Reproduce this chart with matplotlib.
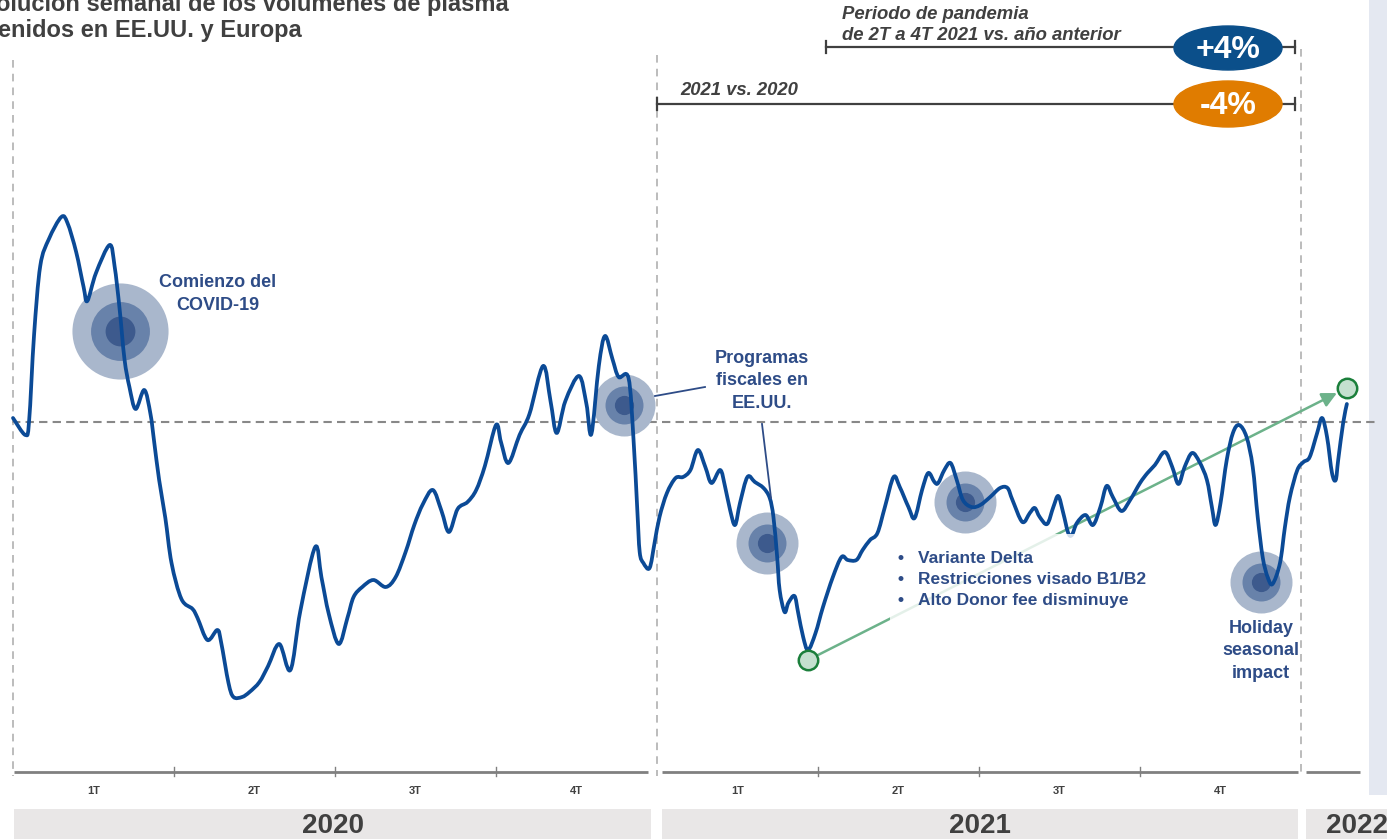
import numpy as np
import matplotlib.pyplot as plt
from matplotlib.patches import Rectangle, Ellipse, PathPatch
from matplotlib.path import Path

plt.rcParams['font.family'] = ['Liberation Sans', 'DejaVu Sans']

W, H = 1387, 839

# weekly plasma volume index (week 0 = start of 2020, 100 = reference level)
weeks = [0.0, 1.0, 1.3, 1.7, 2.2, 2.9, 3.9, 4.4, 5.1, 5.7, 6.0, 6.7, 7.8, 8.2, 8.6, 9.0, 9.4, 9.9,
         10.6, 11.1, 11.4, 11.8, 12.3, 12.8, 13.6, 14.5, 14.9, 15.7, 16.5, 16.8, 17.4, 17.8, 18.5,
         19.1, 19.9, 20.6, 21.5, 22.4, 23.2, 24.4, 24.9, 25.5, 26.3, 27.0, 27.5, 28.2, 29.1, 30.1,
         30.9, 31.7, 32.4, 33.1, 33.9, 34.6, 35.2, 35.9, 36.7, 37.4, 38.1, 39.0, 39.4, 40.0, 40.9,
         41.7, 42.8, 43.4, 43.9, 44.6, 45.7, 46.3, 46.7, 47.3, 47.8, 48.4, 48.9, 49.7, 50.1, 50.4,
         50.6, 50.9, 51.4,
         51.8, 52.2, 52.8, 53.5, 54.1, 54.7, 55.3, 55.9, 56.4, 57.1, 57.5, 57.9, 58.3, 58.7, 59.3,
         59.9, 60.6, 61.1, 61.4, 61.7, 61.9, 62.3, 62.6, 63.1, 63.4, 63.8, 64.2, 64.8, 65.4, 66.2,
         66.9, 67.4, 68.1, 68.6, 69.2, 69.8, 70.4, 71.1, 71.6, 72.3, 72.8, 73.4, 73.9, 74.4, 74.7,
         75.2, 75.7, 76.2, 76.7, 77.4, 78.1, 78.9, 79.7, 80.3, 80.7, 81.5, 82.1, 82.5, 82.9, 83.5,
         84.0, 84.4, 84.8, 85.2, 85.5, 85.9, 86.6, 87.2, 87.8, 88.3, 88.8, 89.5, 90.2, 91.0, 91.6,
         92.2, 93.0, 93.6, 94.1, 94.6, 95.2, 95.8, 96.4, 96.8, 97.1, 97.5, 98.0, 98.5, 99.0, 99.6,
         100.1, 100.5, 100.9, 101.3, 101.7, 102.3, 102.7, 103.1, 103.7,
         104.2, 104.7, 105.3, 105.7, 106.1, 106.5, 106.8, 107.0, 107.4, 107.7]
index = [100.4, 98.7, 100.1, 108.7, 115.6, 118.3, 120.5, 119.9, 117.0, 113.5, 112.1, 114.9, 117.7,
         115.6, 111.4, 106.3, 103.5, 101.3, 103.2, 100.8, 98.0, 94.2, 90.4, 85.9, 82.3, 81.3, 80.4,
         78.2, 79.2, 78.0, 73.9, 72.5, 72.5, 73.0, 74.0, 75.6, 77.8, 75.2, 81.1, 87.5, 84.5, 80.8,
         77.8, 80.4, 82.5, 83.5, 84.2, 83.5, 84.5, 87.0, 89.7, 91.8, 93.2, 91.1, 89.0, 91.3, 92.0,
         93.2, 95.6, 99.7, 98.0, 95.9, 98.7, 100.8, 105.6, 102.1, 98.9, 102.1, 104.6, 101.8, 98.8,
         105.6, 108.6, 106.3, 104.5, 104.4, 98.3, 91.4, 87.0, 85.9, 85.4,
         87.9, 90.5, 92.9, 94.4, 94.5, 95.2, 97.2, 95.5, 93.9, 95.2, 93.5, 91.2, 89.7, 91.9, 94.5,
         94.0, 93.4, 92.4, 90.5, 86.5, 83.2, 81.0, 81.9, 82.6, 80.9, 78.5, 77.2, 78.9, 81.5, 84.5,
         86.5, 86.2, 86.2, 87.2, 88.2, 88.9, 91.5, 94.5, 93.5, 91.5, 90.4, 93.2, 94.9, 94.0, 93.9,
         95.2, 95.9, 94.2, 92.2, 91.5, 91.7, 92.5, 93.4, 93.4, 92.2, 90.0, 90.9, 91.4, 90.5, 89.8,
         91.5, 92.6, 90.9, 88.9, 88.7, 89.9, 90.7, 89.7, 91.5, 93.6, 92.5, 91.1, 92.2, 93.9, 94.9,
         95.7, 97.0, 95.5, 93.8, 95.5, 96.9, 96.0, 94.2, 91.5, 89.7, 91.9, 96.2, 98.9, 99.7, 98.5,
         95.5, 90.5, 86.5, 84.5, 83.8, 85.9, 89.5, 92.5, 95.2,
         96.0, 96.5, 98.9, 100.4, 98.5, 94.9, 94.2, 96.2, 99.9, 101.8]

# event bubbles
bubble_weeks = [8.6, 49.3, 60.9, 76.9, 100.8]
bubble_index = [109.1, 101.7, 87.9, 92.0, 84.0]
bubble_big = [True, False, False, False, False]

trend_start = (64.2, 76.2)
trend_end = (107.7, 103.4)

quarters = ["1T", "2T", "3T", "4T"]
years = ["2020", "2021", "2022"]
year_start = [0, 52, 104]

pandemic_change = "+4%"
year_change = "-4%"

# pixel -> data helpers for the layout
PXW = 12.385
def wx(px):
    return (px - 13) / PXW
def vy(py):
    return 100 + (422 - py) / 10

BLUE = '#0b4a96'
ANN = '#2e4c87'
GREY = '#404040'


def smooth_path(x, y):
    """bezier path through the points (like a smoothed line in excel)"""
    p = np.column_stack([x, y])
    ext = np.vstack([p[0], p, p[-1]])
    verts = [p[0]]
    codes = [Path.MOVETO]
    for i in range(len(p) - 1):
        p0, p1, p2, p3 = ext[i], ext[i + 1], ext[i + 2], ext[i + 3]
        verts += [p1 + (p2 - p0) / 6, p2 - (p3 - p1) / 6, p2]
        codes += [Path.CURVE4] * 3
    return Path(verts, codes)


fig = plt.figure(figsize=(W / 100, H / 100), dpi=100)
ax = fig.add_axes([0, 0, 1, 1])
ax.set_xlim(wx(0), wx(W))
ax.set_ylim(vy(H), vy(0))
ax.axis('off')

# right side panel
ax.add_patch(Rectangle((wx(1369), vy(795)), wx(1400) - wx(1369), vy(-5) - vy(795),
                       color='#e4e8f1', zorder=0, lw=0))

# reference lines
ax.plot([wx(12), wx(1375)], [100, 100], ls=(0, (4, 2.5)), color='#888888', lw=1.5, zorder=2)
for x0, top in zip(year_start, [136.2, 136.7, 137.3]):
    ax.plot([x0, x0], [top, vy(776)], ls=(0, (5, 4)), color='#aaaaaa', lw=1.1, zorder=2)

# bubbles
for bw, bv, big in zip(bubble_weeks, bubble_index, bubble_big):
    k = 1.55 if big else 1.0
    ax.scatter(bw, bv, s=1993 * k ** 2, color='#a9b7cc', zorder=3, lw=0)
    ax.scatter(bw, bv, s=748 * k ** 2, color='#6882aa', zorder=3, lw=0)
    ax.scatter(bw, bv, s=133 * (k * 1.2) ** 2, color='#3d5a8d', zorder=3, lw=0)

ax.add_patch(PathPatch(smooth_path(weeks, index), fill=False, edgecolor=BLUE, lw=2.7,
                       capstyle='round', joinstyle='round', zorder=5))

# trend arrow
ax.annotate('', xy=trend_end, xytext=trend_start,
            arrowprops=dict(arrowstyle='-|>', color='#6cb28a', lw=1.8, mutation_scale=22,
                            shrinkA=7, shrinkB=8), zorder=4)
for p in (trend_start, trend_end):
    ax.plot(*p, 'o', ms=14, mfc='#c4e0cf', mec='#1b7f3b', mew=1.8, zorder=7)

# bottom quarter axis
v_axis = vy(772)
for a, b in [(0.1, 51.3), (52.4, 103.75), (104.4, 108.8)]:
    ax.plot([a, b], [v_axis, v_axis], color='#808080', lw=2, zorder=2, solid_capstyle='butt')
for y0 in year_start[:2]:
    for q in range(1, 4):
        ax.plot([y0 + 13 * q] * 2, [v_axis + 0.45, v_axis - 0.45], color='#808080', lw=1)
    for q, lab in enumerate(quarters):
        ax.text(y0 + 13 * q + 6.5, vy(791), lab, ha='center', va='center', fontsize=8,
                fontweight='bold', color=GREY)

# year bands
for (a, b), lab in zip([(0.1, 51.5), (52.4, 103.75), (104.4, 115)], years):
    ax.add_patch(Rectangle((a, vy(H + 5)), b - a, vy(809) - vy(H + 5), color='#e9e7e7', lw=0, zorder=1))
cx = [25.8, 78.1, wx(1357)]
for c, lab in zip(cx, years):
    ax.text(c, vy(826), lab, ha='center', va='center', fontsize=20, fontweight='bold', color=GREY)

# annotations
txt = dict(fontsize=13, fontweight='bold', color=ANN, ha='center', va='center', linespacing=1.4, zorder=8)
ax.text(wx(218), vy(294), "Comienzo del\nCOVID-19", **txt)
ax.text(wx(762), vy(381), "Programas\nfiscales en\nEE.UU.", **txt)
ax.text(wx(1261), vy(651), "Holiday\nseasonal\nimpact", **txt)
ax.plot([wx(705), wx(655)], [vy(387), vy(396)], color=ANN, lw=1.3, zorder=6)
ax.plot([wx(762), wx(771)], [vy(424), vy(498)], color=ANN, lw=1.3, zorder=6)

ax.add_patch(Rectangle((wx(890), vy(630)), wx(1150) - wx(890), vy(534) - vy(630),
                       facecolor='white', alpha=0.82, lw=0, zorder=6))
blt = dict(fontsize=12.5, fontweight='bold', color=ANN, ha='left', va='center', linespacing=1.5, zorder=8)
ax.text(wx(898), vy(580), "•\n•\n•", **blt)
ax.text(wx(918), vy(580), "Variante Delta\nRestricciones visado B1/B2\nAlto Donor fee disminuye", **blt)

# top brackets
ital = dict(fontsize=13.3, fontweight='bold', style='italic', color=GREY, ha='left', va='center')
ax.text(wx(842), vy(25), "Periodo de pandemia\nde 2T a 4T 2021 vs. año anterior", linespacing=1.3, **ital)
ax.text(wx(680), vy(91), "2021 vs. 2020", **ital)
for a, b, yv in [(wx(826), wx(1295), vy(47)), (wx(657), wx(1295), vy(104))]:
    ax.plot([a, b], [yv, yv], color=GREY, lw=1.6)
    for e in (a, b):
        ax.plot([e, e], [yv - 0.6, yv + 0.6], color=GREY, lw=1.6)
for yv, col, lab, hgt in [(vy(48), '#0b4f8a', pandemic_change, 4.4),
                           (vy(104), '#e07c00', year_change, 4.6)]:
    ax.add_patch(Ellipse((wx(1228), yv), 108 / PXW, hgt, color=col, zorder=5))
    ax.text(wx(1228), yv - 0.2, lab, ha='center', va='center', fontsize=23, fontweight='bold',
            color='white', zorder=6)

# title (cropped)
fig.text(-4 / W, 1 - 11 / H, "olución semanal de los volúmenes de plasma", fontsize=17,
         fontweight='bold', color=GREY, va='baseline')
fig.text(-2 / W, 1 - 37 / H, "enidos en EE.UU. y Europa", fontsize=17,
         fontweight='bold', color=GREY, va='baseline')

fig.savefig('out.png', dpi=100)
